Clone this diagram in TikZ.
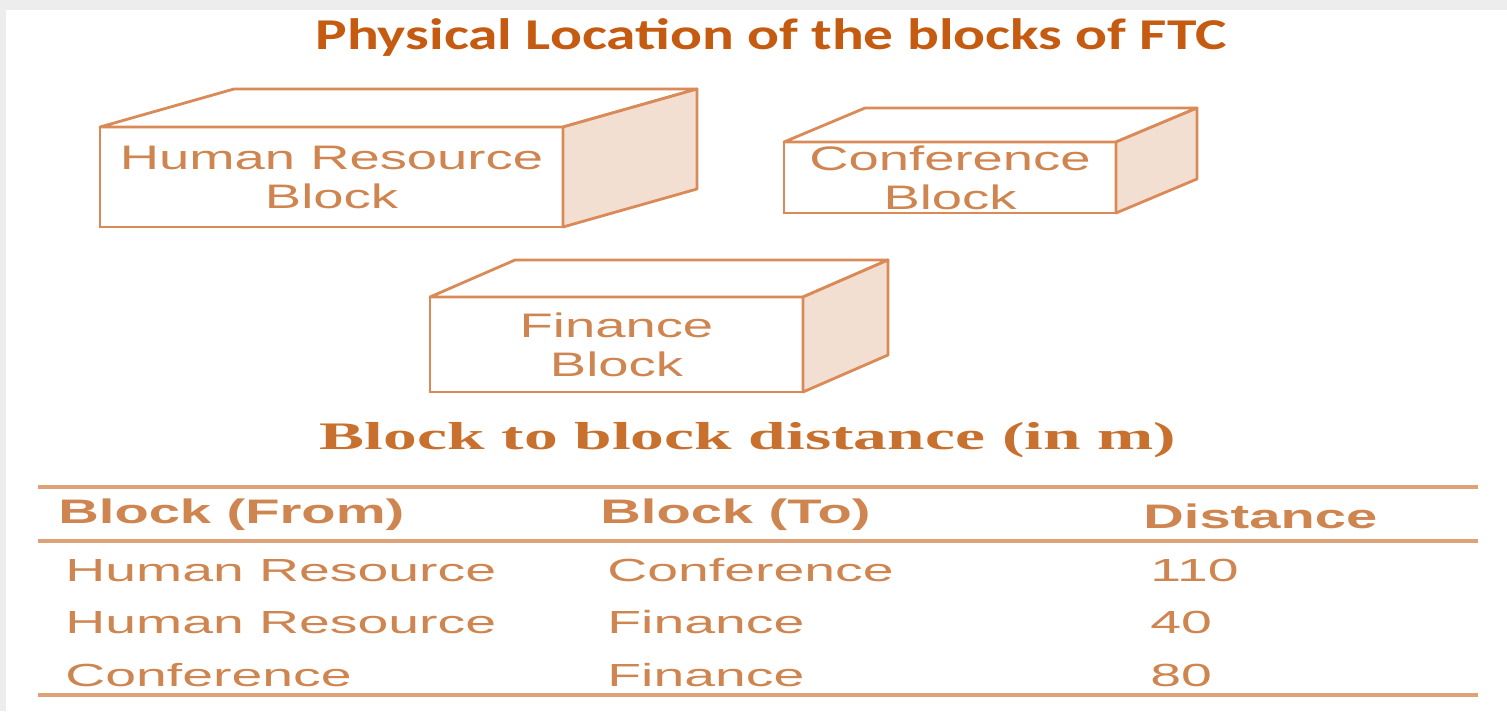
\documentclass[tikz,border=0pt]{standalone}
\usepackage{fontspec}
\setmainfont{Liberation Sans}
\newfontfamily\titlefont[FakeStretch=1.35]{Carlito}
\newfontfamily\boxfont[FakeStretch=1.6]{Liberation Sans}
\newfontfamily\tabfont[FakeStretch=1.73]{Liberation Sans}
\newfontfamily\headfont[FakeStretch=1.65]{Liberation Sans}
\newfontfamily\subfont[FakeStretch=1.73]{Liberation Serif}
\usetikzlibrary{positioning, calc}
\definecolor{titleorange}{HTML}{C55A11}
\definecolor{edge}{HTML}{D98A56}
\definecolor{sideface}{HTML}{F3DFD2}
\definecolor{inktext}{HTML}{CF8550}
\definecolor{subink}{HTML}{C8702E}
\definecolor{rule}{HTML}{DDA27A}
\definecolor{frame}{HTML}{EDEDED}

% top and side faces of a block, from its front node
\newcommand{\blockfaces}[3]{%
  \draw[face, fill=white] (#1.north west) -- ++(#2,#3)
    -- ($(#1.north east)+(#2,#3)$) -- (#1.north east) -- cycle;
  \draw[face, fill=sideface] (#1.north east) -- ++(#2,#3)
    -- ($(#1.south east)+(#2,#3)$) -- (#1.south east) -- cycle;
}

\begin{document}
\begin{tikzpicture}[
  x=0.5pt, y=-0.5pt,
  front/.style={draw=edge, line width=1.4pt, fill=white, inner sep=0pt, outer sep=0pt,
                font=\boxfont\fontsize{17}{19.5}\selectfont, text=inktext, align=center},
  face/.style={draw=edge, line width=1.4pt, line join=round},
  cell/.style={anchor=base west, inner sep=0pt, font=\tabfont\fontsize{16}{20}\selectfont, text=inktext},
  head/.style={anchor=base west, inner sep=0pt, font=\headfont\bfseries\fontsize{17}{20}\selectfont, text=inktext},
  tabrule/.style={draw=rule, line width=1.6pt}
]
  % page
  \fill[frame] (0,0) rectangle (1507,711);
  \fill[white] (6,10) rectangle (1507,711);
  \useasboundingbox (0,0) rectangle (1507,711);

  \node[anchor=base, font=\titlefont\bfseries\fontsize{22}{26}\selectfont, text=titleorange] (title) at (771,50)
    {Physical Location of the blocks of FTC};

  % blocks
  \node[front, minimum width=231.5pt, minimum height=50pt] (hr) at (331.5,177)
    {Human Resource\\Block};
  \blockfaces{hr}{134}{-38}
  \node[front, minimum width=166pt, minimum height=35.5pt] (conf) at (950,177.5)
    {Conference\\Block};
  \blockfaces{conf}{81}{-34}
  \node[front, minimum width=186.5pt, minimum height=47.5pt] (fin) at (616.5,344.5)
    {Finance\\Block};
  \blockfaces{fin}{85}{-37}

  % distance table
  \node[anchor=base, font=\subfont\bfseries\fontsize{19.5}{23}\selectfont, text=subink] (subtitle) at (748,449)
    {Block to block distance (in m)};
  \draw[tabrule] (38,487) -- (1478,487);
  \draw[tabrule] (38,541) -- (1478,541);
  \draw[tabrule] (38,695) -- (1478,695);

  \node[head] (hfrom) at (58,523) {Block (From)};
  \node[head] (hto) at (600,523) {Block (To)};
  \node[head] (hdist) at (1143,528) {Distance};

  \foreach \f/\t/\d [count=\i] in {Human Resource/Conference/110,
                                    Human Resource/Finance/40,
                                    Conference/Finance/80} {
    \node[cell] (from\i) at (65,528.5+52.5*\i) {\f};
    \node[cell] (to\i) at (607,528.5+52.5*\i) {\t};
    \node[cell] (dist\i) at (1150,528.5+52.5*\i) {\d};
  }
\end{tikzpicture}
\end{document}
